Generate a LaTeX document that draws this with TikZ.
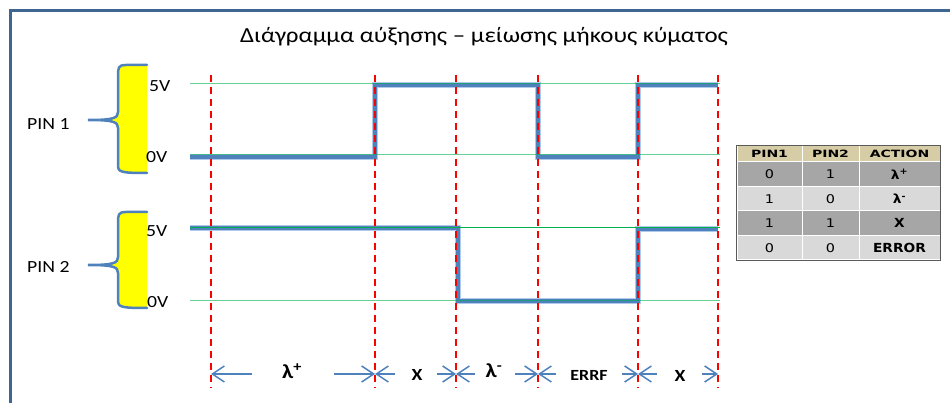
\documentclass[tikz,border=0pt]{standalone}
\usepackage{fontspec}
\setmainfont{Carlito}
\newfontfamily\tablefont{DejaVu Sans}
\usetikzlibrary{arrows.meta}
\newcommand{\hstretch}[2]{\scalebox{#1}[1]{#2}}
\definecolor{frameblue}{RGB}{63,101,147}
\definecolor{sigblue}{RGB}{79,129,189}
\definecolor{sighalo}{RGB}{141,180,226}
\definecolor{gridgreen}{RGB}{0,176,80}
\definecolor{braceyellow}{RGB}{255,255,0}
\definecolor{hdrtan}{RGB}{214,204,166}
\definecolor{rowdark}{RGB}{166,166,166}
\definecolor{rowlight}{RGB}{217,217,217}
\definecolor{tableline}{RGB}{90,90,90}
\tikzset{
  frameline/.style={draw=frameblue,line width=3pt},
  levelline/.style={draw=gridgreen,line width=1pt,opacity=0.6},
  signal/.style={draw=sigblue,line width=4pt,line join=miter},
  signalhalo/.style={draw=sighalo,line width=6pt,line join=miter,opacity=0.7},
  marker/.style={draw=red,line width=1.6pt,dash pattern=on 7pt off 5pt},
  dimarrow/.style={draw=sigblue,line width=1.5pt,-{Straight Barb[length=12pt,width=16pt]}},
  bracefill/.style={fill=braceyellow},
  braceline/.style={draw=sigblue,line width=2.5pt,line cap=round},
  pinlabel/.style={font=\fontsize{17}{19}\selectfont,anchor=west,inner sep=0pt},
  voltlabel/.style={font=\fontsize{17}{19}\selectfont,anchor=west,inner sep=0pt},
  intervallabel/.style={font=\bfseries\fontsize{17}{19}\selectfont,inner sep=0pt},
  cellbase/.style={draw=white,line width=1pt,inner sep=0pt,minimum height=24.5pt,font=\tablefont\fontsize{12}{14}\selectfont},
  hdrcell/.style={cellbase,fill=hdrtan,minimum height=16pt,font=\tablefont\bfseries\fontsize{10}{12}\selectfont},
  darkcell/.style={cellbase,fill=rowdark},
  lightcell/.style={cellbase,fill=rowlight},
  actcell/.style={font=\tablefont\bfseries\fontsize{12.5}{14}\selectfont},
  colA/.style={minimum width=65pt},
  colB/.style={minimum width=57pt},
  colC/.style={minimum width=81pt},
}
\begin{document}
\begin{tikzpicture}[x=1pt,y=-1pt]
\useasboundingbox (0,0) rectangle (950,403);
% frame
\draw[frameline] (10,410) -- (10,11) -- (960,11);
% title
\node[font=\fontsize{21.5}{25}\selectfont] (title) at (484,37) {\hstretch{1.16}{Διάγραμμα αύξησης – μείωσης μήκους κύματος}};

% braces
\fill[bracefill] (147,65) -- (126,65) .. controls (118,65) and (118,68) .. (118,76) -- (118,112)
  .. controls (118,118) and (114,120) .. (88,120) .. controls (114,120) and (118,122) .. (118,128)
  -- (118,165) .. controls (118,172) and (120,173) .. (147,173) -- cycle;
\draw[braceline] (147,65) -- (126,65) .. controls (118,65) and (118,68) .. (118,76) -- (118,112)
  .. controls (118,118) and (114,120) .. (88,120) .. controls (114,120) and (118,122) .. (118,128)
  -- (118,165) .. controls (118,172) and (120,173) .. (147,173);
\fill[bracefill] (147,212) -- (126,212) .. controls (118,212) and (118,215) .. (118,223) -- (118,257)
  .. controls (118,263) and (114,265) .. (88,265) .. controls (114,265) and (118,267) .. (118,273)
  -- (118,300) .. controls (118,307) and (120,308) .. (147,308) -- cycle;
\draw[braceline] (147,212) -- (126,212) .. controls (118,212) and (118,215) .. (118,223) -- (118,257)
  .. controls (118,263) and (114,265) .. (88,265) .. controls (114,265) and (118,267) .. (118,273)
  -- (118,300) .. controls (118,307) and (120,308) .. (147,308);

% pin labels
\node[pinlabel] (pin1) at (27,124) {\hstretch{1.16}{PIN 1}};
\node[pinlabel] (pin2) at (27,267) {\hstretch{1.16}{PIN 2}};
\node[voltlabel] (v5a) at (149,86) {\hstretch{1.16}{5V}};
\node[voltlabel] (v0a) at (146,157) {\hstretch{1.16}{0V}};
\node[voltlabel] (v5b) at (146,231) {\hstretch{1.16}{5V}};
\node[voltlabel] (v0b) at (147,302) {\hstretch{1.16}{0V}};

% signals
\foreach \st in {signalhalo,signal}{
  \draw[\st] (190,157) -- (375,157) -- (375,85) -- (538,85) -- (538,157) -- (638,157) -- (638,85) -- (718,85);
  \draw[\st] (190,228) -- (458,228) -- (458,301) -- (638,301) -- (638,229) -- (718,229);
}
% level lines
\draw[levelline] (190,84) coordinate (g1s) -- (720,84);
\draw[levelline] (190,155) coordinate (g2s) -- (720,155);
\draw[levelline,opacity=1] (190,228) coordinate (g3s) -- (720,228);
\draw[levelline] (190,300) coordinate (g4s) -- (720,300);

% markers
\foreach \n/\x in {1/211,2/375,3/456,4/538,5/638,6/718}{
  \coordinate (m\n t) at (\x,75);
  \coordinate (m\n b) at (\x,388);
  \coordinate (d\n) at (\x,374);
  \draw[marker] (m\n t) -- (m\n b);
}

% interval arrows
\coordinate (a1) at (252,374); \coordinate (a2) at (334,374);
\coordinate (a3) at (395,374); \coordinate (a4) at (437,374);
\coordinate (a5) at (475,374); \coordinate (a6) at (515,374);
\coordinate (a7) at (556,374); \coordinate (a8) at (622,374);
\coordinate (a9) at (657,374); \coordinate (a10) at (702,374);
\draw[dimarrow] (a1) -- (d1);
\draw[dimarrow] (a2) -- (d2);
\draw[dimarrow] (a3) -- (d2);
\draw[dimarrow] (a4) -- (d3);
\draw[dimarrow] (a5) -- (d3);
\draw[dimarrow] (a6) -- (d4);
\draw[dimarrow] (a7) -- (d4);
\draw[dimarrow] (a8) -- (d5);
\draw[dimarrow] (a9) -- (d5);
\draw[dimarrow] (a10) -- (d6);
\node[intervallabel,font=\bfseries\fontsize{20}{22}\selectfont] (l1) at (292,371) {\hstretch{1.16}{λ\textsuperscript{+}}};
\node[intervallabel] (l2) at (417,375) {\hstretch{1.16}{X}};
\node[intervallabel,font=\bfseries\fontsize{20}{22}\selectfont] (l3) at (494,371) {\hstretch{1.16}{λ\textsuperscript{-}}};
\node[intervallabel,font=\bfseries\fontsize{15.5}{17}\selectfont] (l4) at (589,375) {\hstretch{1.16}{ERRF}};
\node[intervallabel] (l5) at (680,376) {\hstretch{1.16}{X}};

% table
\node[hdrcell,colA] (h1) at (769.5,154) {\hstretch{1.4}{PIN1}};
\node[hdrcell,colB] (h2) at (830.5,154) {\hstretch{1.4}{PIN2}};
\node[hdrcell,colC] (h3) at (899.5,154) {\hstretch{1.4}{ACTION}};
\node[darkcell,colA] (r1a) at (769.5,174.25) {\hstretch{1.2}{0}};
\node[darkcell,colB] (r1b) at (830.5,174.25) {\hstretch{1.2}{1}};
\node[darkcell,colC,actcell] (r1c) at (899.5,174.25) {\hstretch{1.1}{λ\textsuperscript{+}}};
\node[lightcell,colA] (r2a) at (769.5,198.75) {\hstretch{1.2}{1}};
\node[lightcell,colB] (r2b) at (830.5,198.75) {\hstretch{1.2}{0}};
\node[lightcell,colC,actcell] (r2c) at (899.5,198.75) {\hstretch{1.1}{λ\textsuperscript{-}}};
\node[darkcell,colA] (r3a) at (769.5,223.25) {\hstretch{1.2}{1}};
\node[darkcell,colB] (r3b) at (830.5,223.25) {\hstretch{1.2}{1}};
\node[darkcell,colC,actcell] (r3c) at (899.5,223.25) {\hstretch{1.1}{X}};
\node[lightcell,colA] (r4a) at (769.5,247.75) {\hstretch{1.2}{0}};
\node[lightcell,colB] (r4b) at (830.5,247.75) {\hstretch{1.2}{0}};
\node[lightcell,colC,actcell] (r4c) at (899.5,247.75) {\hstretch{1.1}{ERROR}};
\draw[tableline,line width=1pt] (h1.north west) rectangle (r4c.south east);
\end{tikzpicture}
\end{document}
